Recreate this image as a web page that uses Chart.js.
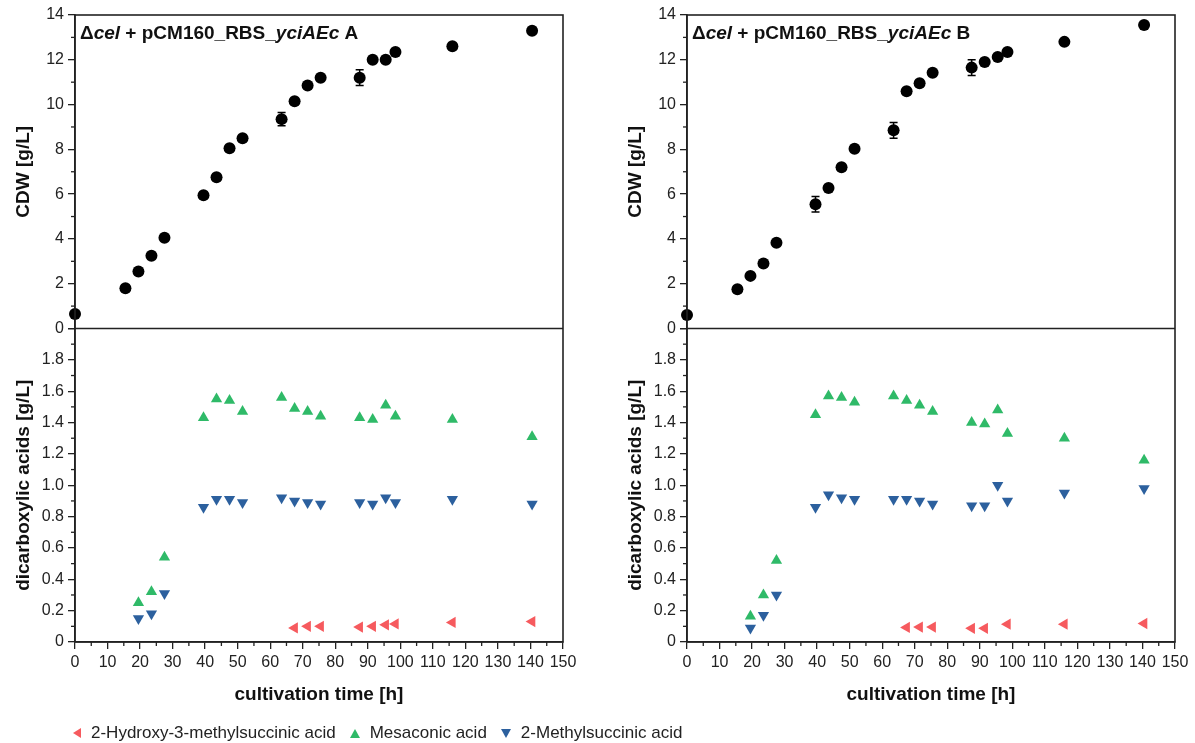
<!DOCTYPE html>
<html>
<head>
<meta charset="utf-8">
<script src="https://cdn.jsdelivr.net/npm/chart.js@4.4.1/dist/chart.umd.min.js"></script>
<style>
  html, body { margin: 0; padding: 0; background: #fff; }
  body { width: 1195px; height: 743px; position: relative; overflow: hidden; font-family: "Liberation Sans", Arial, sans-serif; }
  #chartA { position: absolute; left: 0; top: 0; }
  #chartB { position: absolute; left: 597px; top: 0; }
  #legend { position: absolute; left: 73px; top: 723px; display: flex; align-items: center; font-size: 17px; color: #222; white-space: nowrap; }
  #legend .item { display: flex; align-items: center; margin-right: 14px; }
  #legend .mark { width: 0; height: 0; margin-right: 10px; }
</style>
</head>
<body>
<canvas id="chartA" width="597" height="743"></canvas>
<canvas id="chartB" width="598" height="743"></canvas>
<div id="legend"></div>
<script>
// sampling times [h]
const timesA = [0, 15.5, 19.5, 23.5, 27.5, 39.5, 43.5, 47.5, 51.5, 63.5, 67.5, 71.5, 75.5, 87.5, 91.5, 95.5, 98.5, 116, 140.5];
const timesB = [0, 15.5, 19.5, 23.5, 27.5, 39.5, 43.5, 47.5, 51.5, 63.5, 67.5, 71.5, 75.5, 87.5, 91.5, 95.5, 98.5, 116, 140.5];
const acidTimes = [19.5, 23.5, 27.5, 39.5, 43.5, 47.5, 51.5, 63.5, 67.5, 71.5, 75.5, 87.5, 91.5, 95.5, 98.5, 116, 140.5];

// CDW [g/L] and its std deviation
const cdwA = [0.65, 1.8, 2.55, 3.25, 4.05, 5.95, 6.75, 8.05, 8.5, 9.35, 10.15, 10.85, 11.2, 11.2, 12.0, 12.0, 12.35, 12.6, 13.3];
const cdwErrA = [0, 0, 0, 0, 0, 0, 0, 0, 0, 0.3, 0, 0, 0, 0.35, 0, 0, 0, 0, 0];
const cdwB = [0.6, 1.75, 2.35, 2.9, 3.83, 5.55, 6.27, 7.2, 8.03, 8.85, 10.6, 10.95, 11.42, 11.65, 11.9, 12.12, 12.35, 12.8, 13.55];
const cdwErrB = [0, 0, 0, 0, 0, 0.35, 0, 0, 0, 0.35, 0, 0, 0, 0.35, 0, 0, 0, 0, 0];

// dicarboxylic acids [g/L]
const hydroxyA = [null, null, null, null, null, null, null, null, 0.09, 0.1, 0.1, 0.095, 0.1, 0.11, 0.115, 0.125, 0.13];
const mesaconicA = [0.25, 0.32, 0.54, 1.43, 1.55, 1.54, 1.47, 1.56, 1.49, 1.47, 1.44, 1.43, 1.42, 1.51, 1.44, 1.42, 1.31];
const methylA = [0.15, 0.18, 0.31, 0.86, 0.91, 0.91, 0.89, 0.92, 0.9, 0.89, 0.88, 0.89, 0.88, 0.92, 0.89, 0.91, 0.88];
const hydroxyB = [null, null, null, null, null, null, null, null, 0.093, 0.095, 0.095, 0.087, 0.087, null, 0.114, 0.114, 0.118];
const mesaconicB = [0.165, 0.3, 0.52, 1.45, 1.57, 1.56, 1.53, 1.57, 1.54, 1.51, 1.47, 1.4, 1.39, 1.48, 1.33, 1.3, 1.16];
const methylB = [0.09, 0.17, 0.3, 0.86, 0.94, 0.92, 0.91, 0.91, 0.91, 0.9, 0.88, 0.87, 0.87, 1.0, 0.9, 0.95, 0.98];

const seriesNames = ['2-Hydroxy-3-methylsuccinic acid', 'Mesaconic acid', '2-Methylsuccinic acid'];
const seriesColors = ['#f65a5e', '#2fba68', '#2c609e'];

const FONT = '"Liberation Sans", Arial, sans-serif';
const AXIS = '#222';

function pts(xs, ys) {
  return xs.map((x, i) => ({ x, y: ys[i] })).filter(p => p.y !== null);
}

// minor ticks halfway between the major ones, drawn outward
const minorTicks = {
  id: 'minorTicks',
  afterDraw(chart) {
    const ctx = chart.ctx;
    ctx.save();
    ctx.strokeStyle = AXIS;
    ctx.lineWidth = 1.3;
    const x = chart.scales.x;
    for (let v = 5; v < 150; v += 10) {
      const px = x.getPixelForValue(v);
      ctx.beginPath(); ctx.moveTo(px, x.top); ctx.lineTo(px, x.top + 4); ctx.stroke();
    }
    [['yTop', 1, 2, 14], ['yBot', 0.1, 0.2, 2]].forEach(([id, start, step, max]) => {
      const s = chart.scales[id];
      for (let v = start; v < max; v += step) {
        const py = s.getPixelForValue(v);
        ctx.beginPath(); ctx.moveTo(s.right, py); ctx.lineTo(s.right - 4, py); ctx.stroke();
      }
    });
    ctx.restore();
  }
};

// box around both plots plus the divider
const frame = {
  id: 'frame',
  afterDraw(chart) {
    const { ctx, chartArea: a } = chart;
    const yDiv = chart.scales.yTop.getPixelForValue(0);
    ctx.save();
    ctx.strokeStyle = AXIS;
    ctx.lineWidth = 1.6;
    ctx.strokeRect(a.left, a.top, a.right - a.left, a.bottom - a.top);
    ctx.beginPath(); ctx.moveTo(a.left, yDiv); ctx.lineTo(a.right, yDiv); ctx.stroke();
    ctx.restore();
  }
};

const errorBars = {
  id: 'errorBars',
  afterDatasetsDraw(chart) {
    const ctx = chart.ctx;
    const y = chart.scales.yTop;
    chart.data.datasets.forEach((ds, di) => {
      if (!ds.errors) return;
      const meta = chart.getDatasetMeta(di);
      ctx.save();
      ctx.strokeStyle = '#000';
      ctx.lineWidth = 1.5;
      meta.data.forEach((el, i) => {
        const e = ds.errors[i];
        if (!e) return;
        const v = ds.data[i].y;
        const y1 = y.getPixelForValue(v + e), y2 = y.getPixelForValue(v - e);
        ctx.beginPath();
        ctx.moveTo(el.x, y1); ctx.lineTo(el.x, y2);
        ctx.moveTo(el.x - 4, y1); ctx.lineTo(el.x + 4, y1);
        ctx.moveTo(el.x - 4, y2); ctx.lineTo(el.x + 4, y2);
        ctx.stroke();
      });
      ctx.restore();
    });
  }
};

// "Δcel + pCM160_RBS_yciAEc A" with italic parts
const panelTitle = {
  id: 'panelTitle',
  afterDraw(chart, args, opts) {
    const ctx = chart.ctx;
    const a = chart.chartArea;
    const parts = [['Δ', ''], ['cel', 'italic '], [' + pCM160_RBS_', ''], ['yciAEc', 'italic '], [' ' + opts.letter, '']];
    let x = a.left + 5;
    const y = a.top + 19;
    ctx.save();
    ctx.fillStyle = '#111';
    ctx.textBaseline = 'middle';
    parts.forEach(([t, st]) => {
      ctx.font = st + 'bold 19px ' + FONT;
      ctx.fillText(t, x, y);
      x += ctx.measureText(t).width;
    });
    ctx.restore();
  }
};

function yScale(min, max, step, title, labelCb) {
  return {
    type: 'linear', position: 'left', stack: 'panel', stackWeight: 1,
    min, max,
    afterFit: s => { s.width = 65; },
    border: { display: true, color: AXIS, width: 1.6 },
    grid: { drawOnChartArea: false, drawTicks: true, tickLength: 7, color: AXIS, lineWidth: 1.3 },
    ticks: { stepSize: step, autoSkip: false, padding: 4, color: '#222', font: { family: FONT, size: 16 }, callback: labelCb },
    title: { display: true, text: title, color: '#111', padding: { top: 2, bottom: 2 }, font: { family: FONT, size: 19, weight: 'bold' } }
  };
}

function makePanel(id, letter, pad, times, cdw, cdwErr, hyd, mes, met) {
  new Chart(document.getElementById(id), {
    type: 'scatter',
    data: {
      datasets: [
        { label: 'CDW', data: pts(times, cdw), errors: cdwErr, yAxisID: 'yTop', pointStyle: 'circle', pointRadius: 6,
          borderWidth: 0, backgroundColor: '#000', borderColor: '#000', clip: false },
        { label: seriesNames[0], data: pts(acidTimes, hyd), yAxisID: 'yBot', pointStyle: 'triangle', rotation: -90, pointRadius: 6.5,
          borderWidth: 0, backgroundColor: seriesColors[0], borderColor: seriesColors[0], clip: false },
        { label: seriesNames[1], data: pts(acidTimes, mes), yAxisID: 'yBot', pointStyle: 'triangle', pointRadius: 6.5,
          borderWidth: 0, backgroundColor: seriesColors[1], borderColor: seriesColors[1], clip: false },
        { label: seriesNames[2], data: pts(acidTimes, met), yAxisID: 'yBot', pointStyle: 'triangle', rotation: 180, pointRadius: 6.5,
          borderWidth: 0, backgroundColor: seriesColors[2], borderColor: seriesColors[2], clip: false }
      ]
    },
    options: {
      responsive: false,
      animation: false,
      layout: { padding: pad },
      plugins: { legend: { display: false }, tooltip: { enabled: false }, panelTitle: { letter } },
      scales: {
        x: {
          type: 'linear', position: 'bottom', min: 0, max: 150,
          afterFit: s => { s.height = 68; },
          border: { display: true, color: AXIS, width: 1.6 },
          grid: { drawOnChartArea: false, drawTicks: true, tickLength: 7, color: AXIS, lineWidth: 1.3 },
          ticks: { stepSize: 10, padding: 4, maxRotation: 0, autoSkip: false, color: '#222', font: { family: FONT, size: 16 } },
          title: { display: true, text: 'cultivation time [h]', color: '#111', padding: { top: 4, bottom: 4 }, font: { family: FONT, size: 19, weight: 'bold' } }
        },
        yBot: yScale(0, 2, 0.2, 'dicarboxylic acids [g/L]', v => v === 2 ? '' : (v === 0 ? '0' : v.toFixed(1))),
        yTop: yScale(0, 14, 2, 'CDW [g/L]', v => v)
      }
    },
    plugins: [errorBars, minorTicks, frame, panelTitle]
  });
}

makePanel('chartA', 'A', { left: 10, right: 34, top: 15, bottom: 33 }, timesA, cdwA, cdwErrA, hydroxyA, mesaconicA, methylA);
makePanel('chartB', 'B', { left: 25, right: 20, top: 15, bottom: 33 }, timesB, cdwB, cdwErrB, hydroxyB, mesaconicB, methylB);

// legend below panel A
const legend = document.getElementById('legend');
const markStyles = [
  'border-top:5px solid transparent;border-bottom:5px solid transparent;border-right:8px solid ',
  'border-left:5px solid transparent;border-right:5px solid transparent;border-bottom:9px solid ',
  'border-left:5px solid transparent;border-right:5px solid transparent;border-top:9px solid '
];
seriesNames.forEach((name, i) => {
  const item = document.createElement('div');
  item.className = 'item';
  const mark = document.createElement('span');
  mark.className = 'mark';
  mark.style.cssText = markStyles[i] + seriesColors[i] + ';';
  const label = document.createElement('span');
  label.textContent = name;
  item.appendChild(mark);
  item.appendChild(label);
  legend.appendChild(item);
});
</script>
</body>
</html>
